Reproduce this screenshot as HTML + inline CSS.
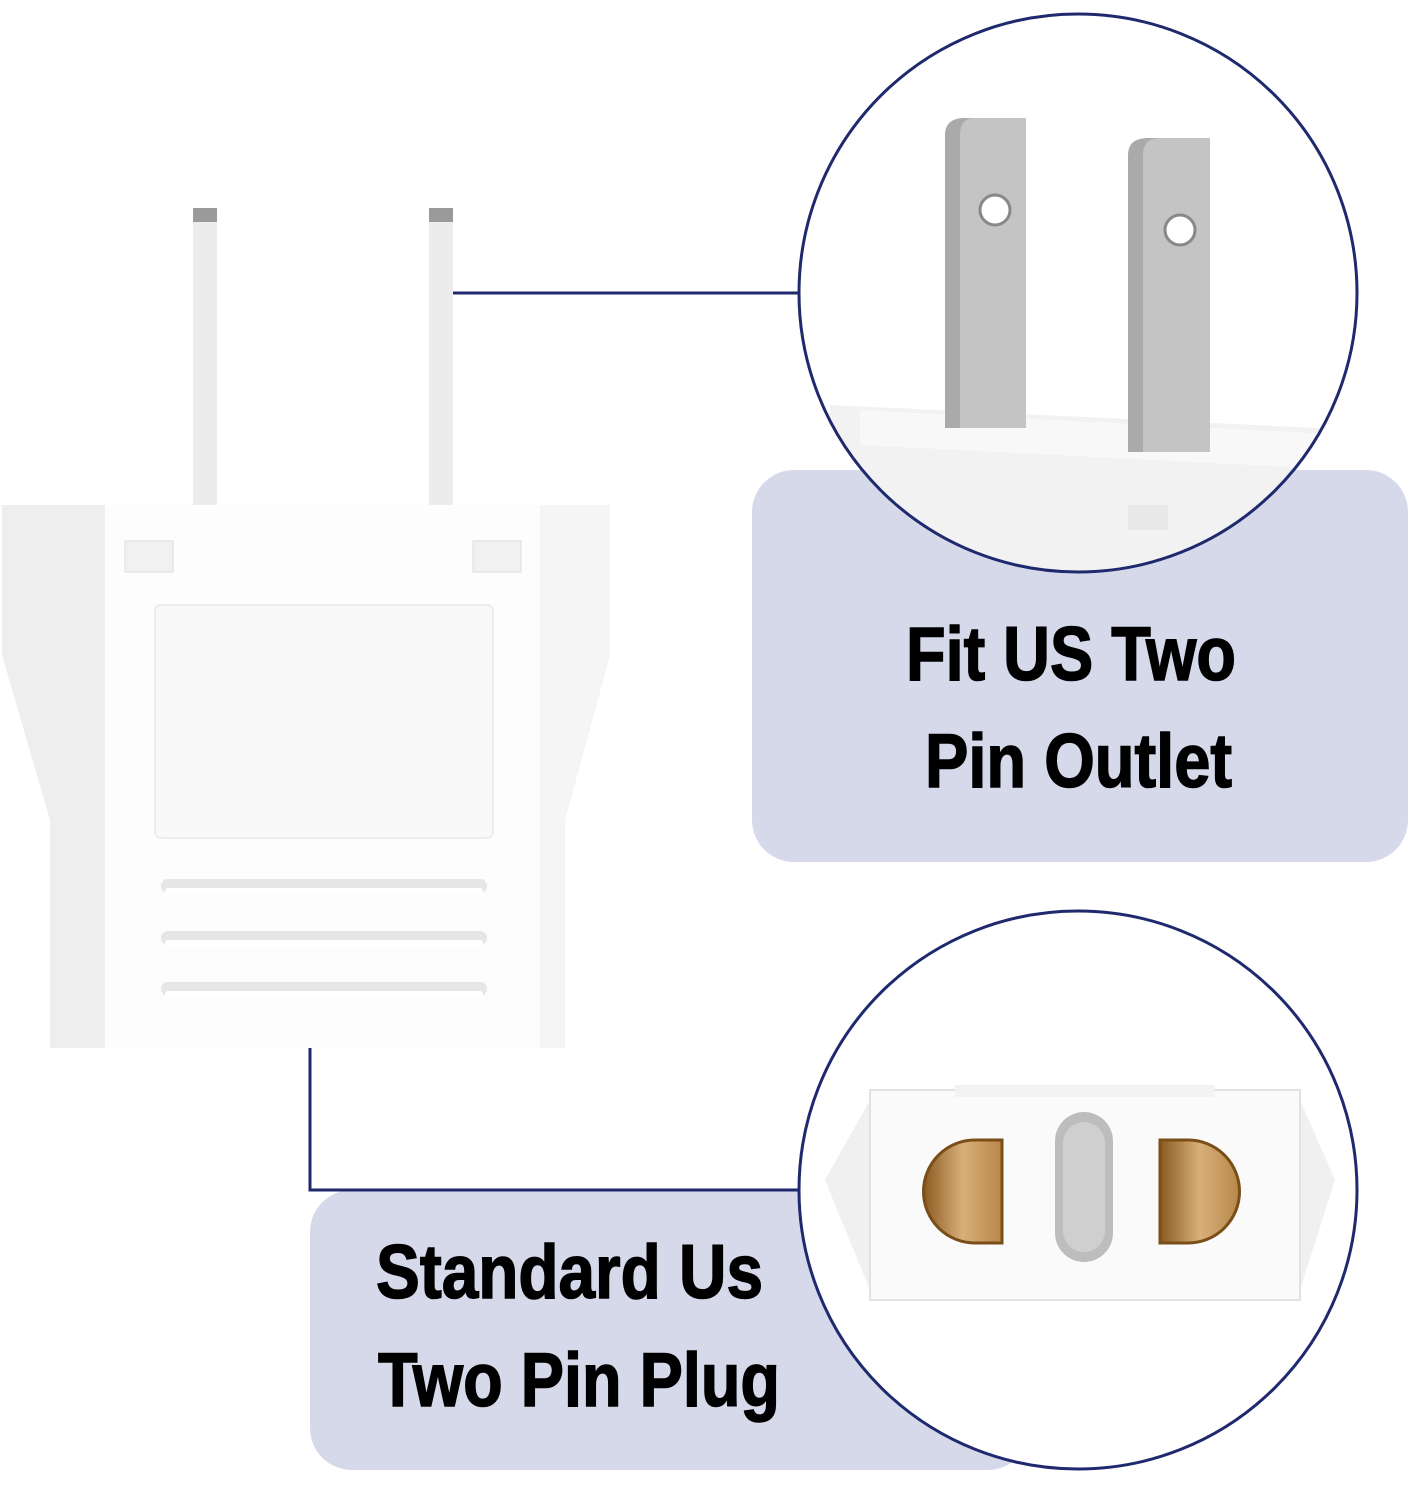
<!DOCTYPE html>
<html><head><style>
html,body{margin:0;padding:0;background:#fff;}
svg{display:block}
text{font-family:"Liberation Sans",sans-serif;font-weight:bold;fill:#000;stroke:#000;stroke-width:1.5}
</style></head><body>
<svg width="1410" height="1500" viewBox="0 0 1410 1500" xmlns="http://www.w3.org/2000/svg">
<defs>
<clipPath id="c1"><circle cx="1078" cy="293" r="279"/></clipPath>
<clipPath id="c2"><circle cx="1078" cy="1190" r="279"/></clipPath>
<linearGradient id="brass" x1="0" x2="1"><stop offset="0" stop-color="#8a5a20"/><stop offset="0.5" stop-color="#d8b07a"/><stop offset="1" stop-color="#b8864a"/></linearGradient>
</defs>
<rect x="752" y="470" width="656" height="392" rx="42" fill="#d6d9ea"/>
<rect x="310" y="1190" width="720" height="280" rx="42" fill="#d6d9ea"/>
<line x1="445" y1="293" x2="800" y2="293" stroke="#1f2a6e" stroke-width="3"/>
<polyline points="310,1048 310,1190 800,1190" fill="none" stroke="#1f2a6e" stroke-width="3"/>
<rect x="193" y="208" width="24" height="300" fill="#ececec"/>
<rect x="193" y="208" width="24" height="14" fill="#9a9a9a"/>
<rect x="429" y="208" width="24" height="300" fill="#ececec"/>
<rect x="429" y="208" width="24" height="14" fill="#9a9a9a"/>
<path d="M2,505 H610 V655 L565,820 V1048 H50 V820 L2,655 Z" fill="#eeeeee"/>
<path d="M105,505 H540 V655 L540,820 V1048 H105 Z" fill="#fdfdfd"/>
<path d="M540,505 H610 V655 L565,820 V1048 H540 Z" fill="#f5f5f5"/>
<rect x="125" y="541" width="48" height="31" fill="#f1f1f1" stroke="#ddd"/>
<rect x="473" y="541" width="48" height="31" fill="#f1f1f1" stroke="#ddd"/>
<rect x="155" y="605" width="338" height="233" rx="6" fill="#f9f9f9" stroke="#ececec" stroke-width="2"/>
<g stroke="#e6e6e6" stroke-width="14" stroke-linecap="round">
<line x1="168" y1="886" x2="480" y2="886"/>
<line x1="168" y1="938" x2="480" y2="938"/>
<line x1="168" y1="989" x2="480" y2="989"/>
</g>
<g stroke="#fff" stroke-width="6" stroke-linecap="round">
<line x1="168" y1="891" x2="480" y2="891"/>
<line x1="168" y1="943" x2="480" y2="943"/>
<line x1="168" y1="994" x2="480" y2="994"/>
</g>
<circle cx="1078" cy="293" r="279" fill="#fff"/>
<g clip-path="url(#c1)">
<path d="M830,405 L1360,430 V600 H830 Z" fill="#f2f2f2"/>
<path d="M860,410 L1350,435 V470 L860,445 Z" fill="#f8f8f8"/>
<rect x="1128" y="505" width="40" height="25" fill="#e8e8e8"/>
<path d="M945,135 Q945,118 965,118 H1026 V428 H945 Z" fill="#aaaaaa"/>
<path d="M960,135 Q960,118 975,118 H1026 V428 H960 Z" fill="#c4c4c4"/>
<circle cx="995" cy="210" r="15" fill="#fff" stroke="#888" stroke-width="3"/>
<path d="M1128,155 Q1128,138 1148,138 H1210 V452 H1128 Z" fill="#aaaaaa"/>
<path d="M1143,155 Q1143,138 1160,138 H1210 V452 H1143 Z" fill="#c4c4c4"/>
<circle cx="1180" cy="230" r="15" fill="#fff" stroke="#888" stroke-width="3"/>
</g>
<circle cx="1078" cy="293" r="279" fill="none" stroke="#1f2a6e" stroke-width="3"/>
<circle cx="1078" cy="1190" r="279" fill="#fff"/>
<g clip-path="url(#c2)">
<path d="M870,1100 H1300 L1335,1180 L1300,1290 H870 L825,1180 Z" fill="#f0f0f0"/>
<rect x="870" y="1090" width="430" height="210" fill="#fafafa" stroke="#e2e2e2" stroke-width="2"/>
<rect x="955" y="1085" width="260" height="12" fill="#f3f3f3"/>
<rect x="1055" y="1112" width="58" height="150" rx="29" fill="#bdbdbd"/>
<rect x="1063" y="1122" width="42" height="130" rx="21" fill="#cfcfcf"/>
<path d="M975,1140 H1002 V1243 H975 A51,51 0 0 1 975,1140 Z" fill="url(#brass)" stroke="#7a4e18" stroke-width="3"/>
<path d="M1160,1140 H1188 A51,51 0 0 1 1188,1243 H1160 Z" fill="url(#brass)" stroke="#7a4e18" stroke-width="3"/>
</g>
<circle cx="1078" cy="1190" r="279" fill="none" stroke="#1f2a6e" stroke-width="3"/>
<text x="906" y="680" font-size="76" textLength="330" lengthAdjust="spacingAndGlyphs">Fit US Two</text>
<text x="925" y="787" font-size="76" textLength="307" lengthAdjust="spacingAndGlyphs">Pin Outlet</text>
<text x="376" y="1298" font-size="76" textLength="387" lengthAdjust="spacingAndGlyphs">Standard Us</text>
<text x="378" y="1406" font-size="76" textLength="402" lengthAdjust="spacingAndGlyphs">Two Pin Plug</text>
</svg>
</body></html>
